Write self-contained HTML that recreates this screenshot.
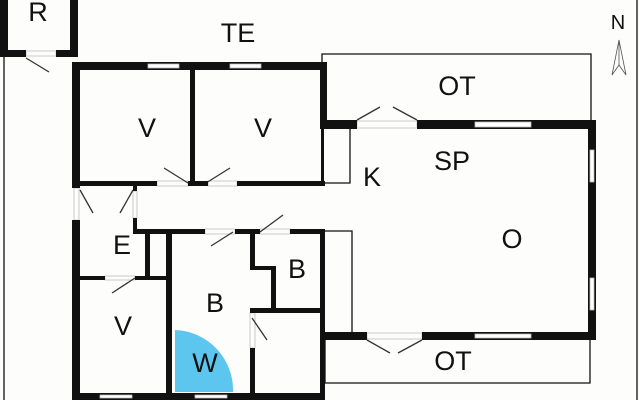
<!DOCTYPE html>
<html><head><style>body{margin:0;background:#fff}svg{display:block}text{font-family:"Liberation Sans",sans-serif;font-size:27px;fill:#111}</style></head><body>
<svg width="640" height="400" viewBox="0 0 640 400">
<rect width="640" height="400" fill="#fdfdfb"/>
<g fill="none" stroke="#ccc" stroke-width="1">
<rect x="26" y="51" width="30" height="5"/>
<rect x="157" y="181" width="31" height="5"/>
<rect x="208" y="181" width="29" height="5"/>
<rect x="357" y="121" width="60" height="7"/>
<rect x="367" y="333" width="55" height="6"/>
<rect x="74" y="188" width="5" height="32"/>
<rect x="133" y="191" width="4" height="27"/>
<rect x="105" y="276" width="30" height="4"/>
<rect x="205" y="229" width="30" height="5"/>
<rect x="260" y="229" width="30" height="5"/>
<rect x="250" y="313" width="5" height="35"/>
</g>
<g fill="none" stroke="#111" stroke-width="1.3">
<line x1="4" y1="57" x2="4" y2="400"/>
<line x1="637" y1="0" x2="637" y2="400"/>
<polyline points="322,62 322,54 591,54 591,122"/>
<polyline points="325,340 325,383 590,383 590,340"/>
<polyline points="325,128 350,128 350,183 322,183"/>
<polyline points="325,231 352,231 352,332"/>
<polygon points="612,75 619,40 626,75 619,65" stroke-width="0.8" stroke="#555"/>
<line x1="619" y1="40" x2="619" y2="65" stroke-width="0.8" stroke="#555"/>
</g>
<g stroke="#333" stroke-width="1.3">
<line x1="26" y1="58" x2="49" y2="72"/>
<line x1="164" y1="168" x2="188" y2="183"/>
<line x1="230" y1="168" x2="206" y2="183"/>
<line x1="357" y1="120" x2="380" y2="107"/>
<line x1="393" y1="107" x2="417" y2="120"/>
<line x1="367" y1="340" x2="390" y2="353"/>
<line x1="398" y1="353" x2="422" y2="340"/>
<line x1="80" y1="190" x2="93" y2="213"/>
<line x1="133" y1="190" x2="120" y2="213"/>
<line x1="112" y1="293" x2="135" y2="278"/>
<line x1="211" y1="246" x2="233" y2="232"/>
<line x1="260" y1="232" x2="283" y2="215"/>
<line x1="252" y1="318" x2="267" y2="340"/>
</g>
<path d="M175,392 L175,330 A60,60 0 0 1 233,392 Z" fill="#5cc6ef"/>
<g fill="#111">
<rect x="0" y="0" width="8" height="57"/>
<rect x="70" y="0" width="8" height="57"/>
<rect x="0" y="50" width="26" height="7"/>
<rect x="56" y="50" width="22" height="7"/>
<rect x="72" y="62" width="255" height="8"/>
<rect x="72" y="62" width="8" height="126"/>
<rect x="190" y="62" width="5" height="123"/>
<rect x="320" y="62" width="7" height="66"/>
<rect x="321" y="128" width="3" height="57"/>
<rect x="72" y="181" width="85" height="5"/>
<rect x="188" y="181" width="20" height="5"/>
<rect x="237" y="181" width="88" height="5"/>
<rect x="320" y="120" width="37" height="9"/>
<rect x="417" y="120" width="178" height="9"/>
<rect x="588" y="120" width="8" height="220"/>
<rect x="320" y="332" width="47" height="8"/>
<rect x="422" y="332" width="173" height="8"/>
<rect x="320" y="229" width="5" height="171"/>
<rect x="72" y="220" width="8" height="180"/>
<rect x="72" y="393" width="253" height="7"/>
<rect x="133" y="218" width="4" height="16"/>
<rect x="133" y="186" width="4" height="5"/>
<rect x="133" y="229" width="72" height="5"/>
<rect x="72" y="276" width="33" height="4"/>
<rect x="135" y="276" width="32" height="4"/>
<rect x="145" y="229" width="5" height="51"/>
<rect x="166" y="229" width="6" height="166"/>
<rect x="235" y="229" width="25" height="5"/>
<rect x="290" y="229" width="35" height="5"/>
<rect x="250" y="229" width="5" height="41"/>
<rect x="250" y="266" width="26" height="4"/>
<rect x="271" y="266" width="5" height="47"/>
<rect x="250" y="308" width="75" height="5"/>
<rect x="250" y="348" width="5" height="50"/>
</g>
<g fill="#fff" stroke="#bbb" stroke-width="0.8">
<rect x="148" y="64" width="31" height="4"/>
<rect x="230" y="64" width="31" height="4"/>
<rect x="475" y="122" width="56" height="5"/>
<rect x="475" y="334" width="56" height="4"/>
<rect x="590" y="150" width="4" height="32"/>
<rect x="590" y="278" width="4" height="32"/>
<rect x="100" y="395" width="32" height="3"/>
<rect x="195" y="395" width="32" height="3"/>
</g>
<text x="38" y="21" text-anchor="middle">R</text>
<text x="238" y="42" text-anchor="middle">TE</text>
<text x="457" y="95" text-anchor="middle">OT</text>
<text x="452" y="170" text-anchor="middle">SP</text>
<text x="372" y="186" text-anchor="middle">K</text>
<text x="512" y="248" text-anchor="middle">O</text>
<text x="122" y="254" text-anchor="middle">E</text>
<text x="147" y="137" text-anchor="middle">V</text>
<text x="263" y="137" text-anchor="middle">V</text>
<text x="297" y="278" text-anchor="middle">B</text>
<text x="215" y="312" text-anchor="middle">B</text>
<text x="123" y="335" text-anchor="middle">V</text>
<text x="205" y="372" text-anchor="middle">W</text>
<text x="453" y="370" text-anchor="middle">OT</text>
<text x="618" y="29" text-anchor="middle" style="font-size:20px">N</text>
</svg>
</body></html>
